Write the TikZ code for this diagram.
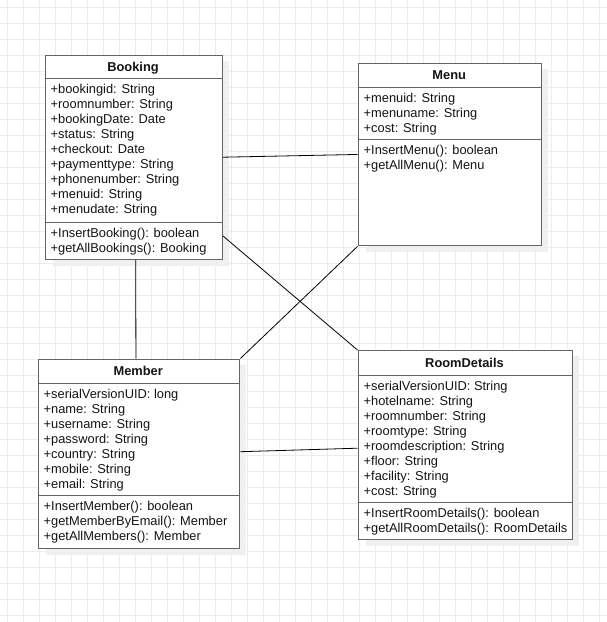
\documentclass[tikz,border=0pt]{standalone}
\usepackage{fontspec}
\setmainfont{Liberation Sans}
\definecolor{gridc}{RGB}{236,236,236}
\definecolor{shadowc}{RGB}{240,240,240}
\definecolor{borderc}{RGB}{100,100,100}
\definecolor{textc}{RGB}{20,20,20}
\tikzset{
  classbox/.style={draw=borderc, line width=1.4pt, fill=white, inner sep=0pt, anchor=north west},
  sepline/.style={draw=borderc, line width=1.4pt},
  shadowbox/.style={fill=shadowc},
  gridline/.style={draw=gridc, line width=0.8pt},
  attr/.style={inner sep=0pt, anchor=base west, text=textc, font=\fontsize{12.85pt}{15pt}\selectfont},
  ctitle/.style={inner sep=0pt, anchor=base, text=textc, font=\fontsize{12.85pt}{15pt}\selectfont\bfseries},
  conn/.style={draw=black, line width=0.8pt}
}
\begin{document}
\begin{tikzpicture}[x=1pt,y=-1pt]
\useasboundingbox (0,0) rectangle (607,622);
\fill[white] (0,0) rectangle (607,622);
% grid
\foreach \k in {0,...,37} \draw[gridline] ({7.5+16*\k},0) -- ({7.5+16*\k},622);
\foreach \k in {0,...,38} \draw[gridline] (0,{7.5+16*\k}) -- (607,{7.5+16*\k});

% ---------- Booking ----------
\fill[shadowbox] (52.5,60.5) rectangle (228.5,265.5);
\node[classbox, minimum width=177pt, minimum height=204pt] (booking) at (44.5,54.5) {};
\draw[sepline] (booking.west |- 0,78.5) -- (booking.east |- 0,78.5);
\draw[sepline] (booking.west |- 0,222.5) -- (booking.east |- 0,222.5);
\node[ctitle] (bookingt) at (133,71) {Booking};
\foreach \t [count=\i] in {+bookingid: String,+roomnumber: String,+bookingDate: Date,+status: String,+checkout: Date,+paymenttype: String,+phonenumber: String,+menuid: String,+menudate: String}
  \node[attr] (bka\i) at (50.5,{93.5+15*(\i-1)}) {\t};
\foreach \t [count=\i] in {+InsertBooking(): boolean,+getAllBookings(): Booking}
  \node[attr] (bkm\i) at (50.5,{237.5+15*(\i-1)}) {\t};

% ---------- Menu ----------
\fill[shadowbox] (365.5,68.5) rectangle (548,252);
\node[classbox, minimum width=183.5pt, minimum height=182.5pt] (menu) at (357.5,62.5) {};
\draw[sepline] (menu.west |- 0,87.5) -- (menu.east |- 0,87.5);
\draw[sepline] (menu.west |- 0,139.5) -- (menu.east |- 0,139.5);
\node[ctitle] (menut) at (449.25,79) {Menu};
\foreach \t [count=\i] in {+menuid: String,+menuname: String,+cost: String}
  \node[attr] (mna\i) at (363.5,{102+15*(\i-1)}) {\t};
\foreach \t [count=\i] in {+InsertMenu(): boolean,+getAllMenu(): Menu}
  \node[attr] (mnm\i) at (363.5,{154.5+15*(\i-1)}) {\t};

% ---------- Member ----------
\fill[shadowbox] (45.5,364.5) rectangle (246,554.5);
\node[classbox, minimum width=201.5pt, minimum height=189pt] (member) at (37.5,358.5) {};
\draw[sepline] (member.west |- 0,383.5) -- (member.east |- 0,383.5);
\draw[sepline] (member.west |- 0,495.5) -- (member.east |- 0,495.5);
\node[ctitle] (membert) at (138.25,375) {Member};
\foreach \t [count=\i] in {+serialVersionUID: long,+name: String,+username: String,+password: String,+country: String,+mobile: String,+email: String}
  \node[attr] (mba\i) at (43.5,{398.5+15*(\i-1)}) {\t};
\foreach \t [count=\i] in {+InsertMember(): boolean,+getMemberByEmail(): Member,+getAllMembers(): Member}
  \node[attr] (mbm\i) at (43.5,{510.5+15*(\i-1)}) {\t};

% ---------- RoomDetails ----------
\fill[shadowbox] (365.5,356) rectangle (578.5,546);
\node[classbox, minimum width=214pt, minimum height=189pt] (room) at (357.5,350) {};
\draw[sepline] (room.west |- 0,375.5) -- (room.east |- 0,375.5);
\draw[sepline] (room.west |- 0,502.5) -- (room.east |- 0,502.5);
\node[ctitle] (roomt) at (464.5,367) {RoomDetails};
\foreach \t [count=\i] in {+serialVersionUID: String,+hotelname: String,+roomnumber: String,+roomtype: String,+roomdescription: String,+floor: String,+facility: String,+cost: String}
  \node[attr] (rda\i) at (363.5,{390.5+15*(\i-1)}) {\t};
\foreach \t [count=\i] in {+InsertRoomDetails(): boolean,+getAllRoomDetails(): RoomDetails}
  \node[attr] (rdm\i) at (363.5,{517.5+15*(\i-1)}) {\t};

% ---------- connectors ----------
\draw[conn] (booking.east) -- (menu.west);
\draw[conn] ([xshift=2pt]booking.south) -- ([xshift=-3pt]member.north);
\draw[conn] ([yshift=24pt]booking.south east) -- (room.north west);
\draw[conn] (menu.south west) -- (member.north east);
\draw[conn] ([yshift=2pt]member.east) -- ([yshift=-3pt]room.west);
\end{tikzpicture}
\end{document}
